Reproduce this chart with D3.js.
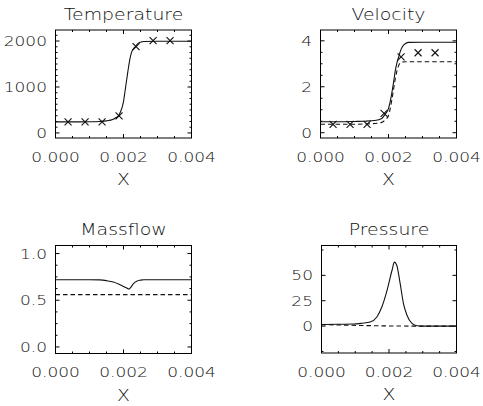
<!DOCTYPE html>
<html>
<head>
<meta charset="utf-8">
<script src="https://cdn.jsdelivr.net/npm/d3@7"></script>
<style>
  html, body { margin: 0; padding: 0; background: #fff; }
  svg { display: block; }
  text { font-family: "DejaVu Sans", sans-serif; font-weight: 200; fill: #111; }
</style>
</head>
<body>
<div id="chart"></div>
<script>
// ---- data ----
const xTicks = [0, 0.002, 0.004];
const xTickLabels = ["0.000", "0.002", "0.004"];
const xMinorStep = 0.0005;

// Temperature
const tempX = [0, 0.0005, 0.0010, 0.0013, 0.0015, 0.0017, 0.0018, 0.00185, 0.0019, 0.0020, 0.00205, 0.0021, 0.00215, 0.0022, 0.00225, 0.0023, 0.00235, 0.0024, 0.0025, 0.0026, 0.0030, 0.0040];
const tempT = [240, 240, 242, 248, 262, 300, 340, 370, 440, 680, 935, 1190, 1440, 1650, 1780, 1840, 1880, 1930, 1975, 1990, 1995, 1995];
const tempCrossX = [0.00037, 0.00087, 0.00137, 0.00187, 0.00237, 0.00287, 0.00337];
const tempCrossT = [240, 240, 240, 370, 1880, 2010, 2010];
const tempTicks = [0, 1000, 2000];
const tempTickLabels = ["0", "1000", "2000"];

// Velocity
const velX = [0, 0.0005, 0.0010, 0.0013, 0.0016, 0.0018, 0.0019, 0.0020, 0.00205, 0.0021, 0.00215, 0.0022, 0.00225, 0.0023, 0.00235, 0.0024, 0.0025, 0.0026, 0.0030, 0.0040];
const velSolid = [0.48, 0.48, 0.49, 0.50, 0.53, 0.62, 0.80, 1.05, 1.35, 1.75, 2.20, 2.70, 3.05, 3.30, 3.55, 3.72, 3.88, 3.93, 3.94, 3.94];
const velDashed = [0.37, 0.37, 0.37, 0.38, 0.40, 0.45, 0.55, 0.75, 1.05, 1.45, 1.90, 2.35, 2.70, 2.93, 3.04, 3.08, 3.09, 3.09, 3.09, 3.09];
const velCrossV = [0.36, 0.36, 0.36, 0.84, 3.30, 3.48, 3.48];
const velTicks = [0, 2, 4];
const velTickLabels = ["0", "2", "4"];

// Massflow
const massX = [0, 0.0005, 0.0010, 0.0013, 0.0015, 0.0017, 0.0019, 0.0020, 0.0021, 0.00216, 0.0022, 0.0023, 0.0024, 0.0025, 0.0026, 0.0030, 0.0040];
const massSolid = [0.72, 0.72, 0.72, 0.718, 0.71, 0.695, 0.665, 0.648, 0.63, 0.62, 0.632, 0.68, 0.705, 0.715, 0.72, 0.72, 0.72];
const massDashedX = [0, 0.004];
const massDashed = [0.56, 0.56];
const massTicks = [0, 0.5, 1.0];
const massTickLabels = ["0.0", "0.5", "1.0"];

// Pressure
const presX = [0, 0.0005, 0.00095, 0.0012, 0.00144, 0.00164, 0.00179, 0.00194, 0.00209, 0.00216, 0.00223, 0.00233, 0.00243, 0.00253, 0.00268, 0.00283, 0.0030, 0.0040];
const presSolid = [1.5, 1.8, 2.0, 2.8, 4, 9, 19, 35, 55, 63, 60, 42, 22, 11, 2.6, 0.3, 0, 0];
const presDashedX = [0, 0.0028, 0.0040];
const presDashed = [1.5, 0, 0];
const presTicks = [0, 25, 50];
const presTickLabels = ["0", "25", "50"];

// ---- layout ----
const W = 483, H = 406;
const svg = d3.select("#chart").append("svg").attr("width", W).attr("height", H);

const TEXT_SX = 1.26;     // wide stroke-font look
const MAJOR = 4, MINOR = 2;

function wideText(g, x, y, str, size, anchor) {
  g.append("text")
    .attr("transform", `translate(${x},${y}) scale(${TEXT_SX},1)`)
    .attr("text-anchor", anchor)
    .attr("font-size", size)
    .text(str);
}

function panel(cfg) {
  const { left, right, top, bottom, yDomain } = cfg;
  const x = d3.scaleLinear().domain([0, 0.004]).range([left, right]);
  const y = d3.scaleLinear().domain(yDomain).range([bottom, top]);
  const g = svg.append("g");

  // plot frame
  g.append("rect")
    .attr("x", left).attr("y", top)
    .attr("width", right - left).attr("height", bottom - top)
    .attr("fill", "none").attr("stroke", "#000").attr("stroke-width", 1);

  // x ticks (bottom + top, inward)
  const xMinor = d3.range(0, 0.004 + 1e-9, xMinorStep);
  xMinor.forEach(v => {
    const len = xTicks.some(t => Math.abs(t - v) < 1e-9) ? MAJOR : MINOR;
    g.append("line").attr("x1", x(v)).attr("x2", x(v)).attr("y1", bottom).attr("y2", bottom - len)
      .attr("stroke", "#000");
    g.append("line").attr("x1", x(v)).attr("x2", x(v)).attr("y1", top).attr("y2", top + len)
      .attr("stroke", "#000");
  });

  // y ticks (left + right, inward)
  const yMinor = d3.range(cfg.yTicks[0] - 10 * cfg.yMinorStep, cfg.yTicks[cfg.yTicks.length - 1] + 10 * cfg.yMinorStep, cfg.yMinorStep)
    .filter(v => v >= yDomain[0] && v <= yDomain[1]);
  yMinor.forEach(v => {
    const len = cfg.yTicks.some(t => Math.abs(t - v) < 1e-9) ? MAJOR : MINOR;
    g.append("line").attr("x1", left).attr("x2", left + len).attr("y1", y(v)).attr("y2", y(v))
      .attr("stroke", "#000");
    g.append("line").attr("x1", right).attr("x2", right - len).attr("y1", y(v)).attr("y2", y(v))
      .attr("stroke", "#000");
  });

  // tick labels
  xTicks.forEach((v, i) => wideText(g, x(v), bottom + 23.5, xTickLabels[i], 13.5, "middle"));
  cfg.yTicks.forEach((v, i) => wideText(g, left - 8.5, y(v) + 5, cfg.yTickLabels[i], 13.5, "end"));

  // titles
  wideText(g, (left + right) / 2, top - 10.5, cfg.title, 15, "middle");
  wideText(g, (left + right) / 2, bottom + 47, "X", 15, "middle");

  // curves
  const clip = "clip" + cfg.id;
  svg.append("clipPath").attr("id", clip).append("rect")
    .attr("x", left).attr("y", top).attr("width", right - left).attr("height", bottom - top);
  const lines = g.append("g").attr("clip-path", `url(#${clip})`);
  cfg.series.forEach(s => {
    const line = d3.line().x((d, i) => x(s.x[i])).y(d => y(d)).curve(d3.curveMonotoneX);
    lines.append("path").attr("d", line(s.y))
      .attr("fill", "none").attr("stroke", "#111").attr("stroke-width", 1.1)
      .attr("stroke-dasharray", s.dashed ? "4.5,3" : null);
  });
  if (cfg.crosses) {
    const r = 3.5;
    cfg.crosses.x.forEach((cx, i) => {
      const px = x(cx), py = y(cfg.crosses.y[i]);
      g.append("path")
        .attr("d", `M${px - r},${py - r}L${px + r},${py + r}M${px - r},${py + r}L${px + r},${py - r}`)
        .attr("stroke", "#111").attr("stroke-width", 1.1);
    });
  }
}

panel({
  id: "t", title: "Temperature", left: 55.5, right: 191.5, top: 30, bottom: 138,
  yDomain: [-110, 2240], yTicks: tempTicks, yTickLabels: tempTickLabels, yMinorStep: 125,
  series: [{ x: tempX, y: tempT }],
  crosses: { x: tempCrossX, y: tempCrossT }
});
panel({
  id: "v", title: "Velocity", left: 320.5, right: 456.5, top: 30, bottom: 138,
  yDomain: [-0.23, 4.47], yTicks: velTicks, yTickLabels: velTickLabels, yMinorStep: 0.5,
  series: [{ x: velX, y: velSolid }, { x: velX, y: velDashed, dashed: true }],
  crosses: { x: tempCrossX, y: velCrossV }
});
panel({
  id: "m", title: "Massflow", left: 55.5, right: 191.5, top: 245.5, bottom: 353.5,
  yDomain: [-0.07, 1.086], yTicks: massTicks, yTickLabels: massTickLabels, yMinorStep: 0.125,
  series: [{ x: massX, y: massSolid }, { x: massDashedX, y: massDashed, dashed: true }]
});
panel({
  id: "p", title: "Pressure", left: 321.5, right: 456.5, top: 245.5, bottom: 353,
  yDomain: [-26.5, 79.4], yTicks: presTicks, yTickLabels: presTickLabels, yMinorStep: 25,
  series: [{ x: presX, y: presSolid }, { x: presDashedX, y: presDashed, dashed: true }]
});
</script>
</body>
</html>
